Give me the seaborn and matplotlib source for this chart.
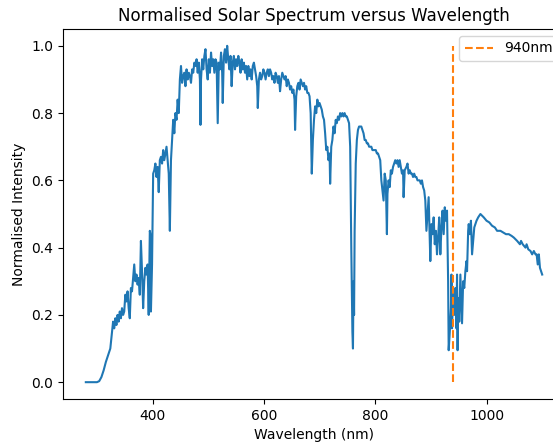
import matplotlib
matplotlib.use("Agg")
import matplotlib.pyplot as plt
import seaborn as sns
import pandas as pd

wavelength = [
    280, 290, 300, 304, 308, 312, 316, 320, 324, 327, 329, 331, 333, 335, 337, 339, 341, 343, 345, 347,
    349, 351, 353, 355, 357, 359, 361, 363, 365, 367, 369, 371, 373, 375, 377, 379, 381, 383, 385, 387,
    389, 391, 393, 395, 396, 397, 399, 401, 403, 405, 407, 409, 411, 413, 415, 417, 419, 421, 423, 425,
    427, 429, 431, 433, 435, 437, 439, 441, 443, 445, 447, 449, 451, 453, 455, 457, 459, 461, 463, 465,
    467, 469, 471, 473, 475, 477, 479, 481, 483, 485, 486, 487, 489, 491, 493, 495, 497, 499, 501, 503,
    505, 507, 509, 511, 513, 515, 517, 519, 521, 523, 525, 526, 528, 530, 532, 534, 536, 538, 540, 542,
    544, 546, 548, 550, 552, 554, 556, 558, 560, 562, 564, 566, 568, 570, 572, 574, 576, 578, 580, 582,
    584, 586, 588, 589, 591, 593, 595, 597, 599, 601, 603, 605, 607, 609, 611, 613, 615, 617, 619, 621,
    623, 625, 627, 629, 631, 633, 635, 637, 639, 641, 643, 645, 647, 649, 651, 653, 655, 656, 658, 660,
    662, 664, 666, 668, 670, 672, 674, 676, 678, 680, 682, 684, 686, 688, 690, 692, 694, 696, 698, 700,
    702, 704, 706, 708, 710, 712, 714, 716, 718, 719, 721, 723, 725, 727, 729, 731, 733, 735, 737, 739,
    741, 743, 745, 747, 749, 751, 753, 755, 757, 759, 760, 761, 762, 763, 765, 767, 769, 771, 773, 775,
    777, 779, 781, 783, 785, 787, 789, 791, 793, 795, 797, 799, 801, 803, 805, 807, 809, 811, 813, 815,
    817, 819, 821, 822, 824, 826, 828, 830, 832, 834, 836, 838, 840, 842, 844, 846, 848, 850, 851, 853,
    856, 858, 860, 862, 864, 866, 868, 870, 872, 874, 876, 878, 880, 882, 884, 886, 888, 890, 892, 894,
    896, 898, 899, 901, 903, 905, 907, 909, 911, 913, 915, 917, 919, 921, 923, 925, 927, 929, 931, 932,
    934, 936, 937, 938, 940, 942, 944, 946, 947, 948, 949, 951, 953, 955, 956, 958, 960, 962, 964, 965,
    967, 968, 970, 972, 974, 976, 978, 980, 982, 985, 989, 995, 1000, 1005, 1010, 1015, 1019, 1025, 1030, 1035,
    1040, 1045, 1049, 1055, 1060, 1062, 1065, 1070, 1072, 1075, 1079, 1082, 1085, 1088, 1090, 1092, 1094, 1096, 1098, 1100,
]

intensity = [
    0.0, 0.0, 0.0, 0.003, 0.015, 0.035, 0.06, 0.08, 0.10, 0.15, 0.18, 0.16, 0.19, 0.17, 0.20, 0.18, 0.21, 0.19, 0.22, 0.20,
    0.21, 0.26, 0.24, 0.27, 0.22, 0.19, 0.28, 0.27, 0.31, 0.35, 0.30, 0.32, 0.29, 0.31, 0.26, 0.42, 0.33, 0.22, 0.30, 0.34,
    0.32, 0.35, 0.20, 0.45, 0.44, 0.21, 0.35, 0.62, 0.63, 0.65, 0.61, 0.64, 0.565, 0.66, 0.67, 0.65, 0.69, 0.66, 0.68, 0.70,
    0.66, 0.62, 0.45, 0.66, 0.72, 0.78, 0.74, 0.80, 0.78, 0.84, 0.80, 0.90, 0.94, 0.89, 0.91, 0.92, 0.88, 0.93, 0.90, 0.92,
    0.91, 0.89, 0.93, 0.92, 0.95, 0.94, 0.96, 0.92, 0.95, 0.90, 0.765, 0.90, 0.96, 0.93, 0.97, 0.99, 0.93, 0.90, 0.96, 0.92,
    0.98, 0.94, 0.96, 0.92, 0.96, 0.95, 0.77, 0.95, 0.93, 0.98, 0.92, 0.83, 0.97, 0.99, 0.95, 1.0, 0.96, 0.93, 0.97, 0.88,
    0.95, 0.97, 0.93, 0.96, 0.94, 0.97, 0.95, 0.92, 0.96, 0.93, 0.95, 0.92, 0.94, 0.90, 0.94, 0.91, 0.93, 0.90, 0.94, 0.95,
    0.93, 0.91, 0.88, 0.815, 0.90, 0.92, 0.90, 0.91, 0.93, 0.92, 0.90, 0.92, 0.93, 0.91, 0.93, 0.92, 0.90, 0.91, 0.89, 0.92,
    0.91, 0.89, 0.91, 0.865, 0.90, 0.92, 0.91, 0.90, 0.91, 0.88, 0.90, 0.89, 0.87, 0.88, 0.86, 0.87, 0.84, 0.75, 0.85, 0.88,
    0.89, 0.87, 0.90, 0.89, 0.88, 0.89, 0.87, 0.88, 0.86, 0.86, 0.85, 0.80, 0.62, 0.72, 0.78, 0.82, 0.80, 0.84, 0.82, 0.83,
    0.82, 0.81, 0.79, 0.78, 0.74, 0.69, 0.70, 0.66, 0.68, 0.59, 0.70, 0.72, 0.76, 0.74, 0.78, 0.77, 0.79, 0.78, 0.80, 0.79,
    0.80, 0.79, 0.80, 0.79, 0.79, 0.78, 0.77, 0.70, 0.40, 0.15, 0.10, 0.30, 0.20, 0.45, 0.65, 0.72, 0.75, 0.76, 0.76, 0.76,
    0.75, 0.74, 0.72, 0.72, 0.71, 0.71, 0.70, 0.70, 0.70, 0.69, 0.69, 0.69, 0.69, 0.68, 0.68, 0.67, 0.66, 0.60, 0.57, 0.54,
    0.62, 0.60, 0.44, 0.56, 0.60, 0.58, 0.63, 0.62, 0.64, 0.65, 0.66, 0.65, 0.66, 0.64, 0.66, 0.64, 0.62, 0.63, 0.55, 0.63,
    0.64, 0.65, 0.62, 0.63, 0.62, 0.62, 0.61, 0.62, 0.61, 0.61, 0.60, 0.60, 0.60, 0.59, 0.60, 0.58, 0.57, 0.54, 0.45, 0.50,
    0.55, 0.42, 0.36, 0.47, 0.44, 0.49, 0.41, 0.45, 0.38, 0.43, 0.49, 0.38, 0.46, 0.51, 0.44, 0.52, 0.48, 0.51, 0.30, 0.095,
    0.15, 0.22, 0.32, 0.16, 0.27, 0.20, 0.28, 0.16, 0.32, 0.095, 0.25, 0.18, 0.32, 0.22, 0.175, 0.30, 0.28, 0.33, 0.36, 0.33,
    0.45, 0.47, 0.44, 0.48, 0.38, 0.42, 0.46, 0.47, 0.48, 0.49, 0.50, 0.49, 0.48, 0.475, 0.465, 0.46, 0.45, 0.45, 0.445, 0.44,
    0.44, 0.435, 0.43, 0.42, 0.41, 0.42, 0.41, 0.40, 0.41, 0.395, 0.39, 0.38, 0.39, 0.38, 0.38, 0.35, 0.38, 0.34, 0.33, 0.32,
]

marker_wavelength = 940
marker_label = "940nm"

df = pd.DataFrame({"Wavelength": wavelength, "Intensity": intensity})

fig = plt.figure(figsize=(5.53, 4.45), dpi=100)
ax = fig.add_axes([63 / 553, 1 - 399 / 445, 502 / 553, 370 / 445])

sns.lineplot(data=df, x="Wavelength", y="Intensity", ax=ax, color="#1f77b4", linewidth=1.5)
ax.vlines(marker_wavelength, 0, 1, colors="#ff7f0e", linestyles="dashed", label=marker_label)

ax.set_xlim(239, 1141)
ax.set_ylim(-0.05, 1.05)
ax.set_xticks([400, 600, 800, 1000])
ax.set_yticks([0.0, 0.2, 0.4, 0.6, 0.8, 1.0])
ax.set_xlabel("Wavelength (nm)")
ax.set_ylabel("Normalised Intensity")
ax.set_title("Normalised Solar Spectrum versus Wavelength")
ax.legend(loc="upper right")

fig.savefig("out.png", dpi=100)
